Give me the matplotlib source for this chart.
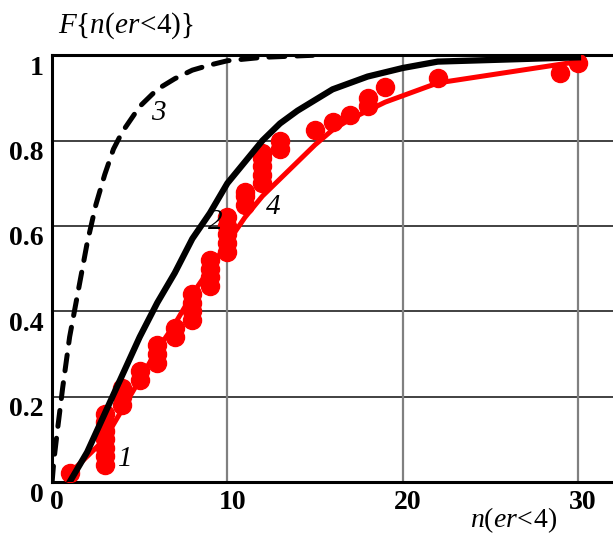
import matplotlib
matplotlib.use('Agg')
import matplotlib.pyplot as plt
import matplotlib.transforms as mtransforms

plt.rcParams['font.family'] = ['Liberation Serif', 'DejaVu Serif']
plt.rcParams['mathtext.fontset'] = 'custom'
plt.rcParams['mathtext.rm'] = 'Liberation Serif'
plt.rcParams['mathtext.it'] = 'Liberation Serif:italic'

### Data ###
# curve 3 (dashed)
n3 = [0, 0.1, 0.3, 0.6, 1.0, 1.5, 2.0, 2.5, 3.0, 3.5, 4.0, 5.0, 6.0, 7.0, 8.0, 9.0, 10, 12, 15]
F3 = [0.0, 0.05, 0.12, 0.22, 0.34, 0.45, 0.56, 0.65, 0.72, 0.78, 0.82, 0.88, 0.92, 0.945, 0.965, 0.977, 0.987, 0.995, 1.0]

# curve 2 (solid black)
n2 = [1, 2, 3, 4, 5, 6, 7, 8, 9, 10, 11, 12, 13, 14, 15, 16, 17, 18, 19, 20, 22, 30]
F2 = [0.0, 0.07, 0.16, 0.25, 0.34, 0.42, 0.49, 0.57, 0.63, 0.70, 0.75, 0.80, 0.84, 0.87, 0.895, 0.92, 0.935, 0.95, 0.96, 0.97, 0.985, 0.995]

# curve 4 (red line)
n4 = [1, 3, 4, 5, 6, 7, 8, 9, 10, 11, 12, 13, 14, 15, 16, 17, 18, 19, 22, 30]
F4 = [0.02, 0.10, 0.17, 0.24, 0.31, 0.37, 0.44, 0.50, 0.56, 0.62, 0.67, 0.71, 0.75, 0.79, 0.825, 0.85, 0.87, 0.89, 0.935, 0.985]

# empirical points (1)
n1 = [1,
      3, 3, 3, 3, 3, 3, 3,
      4, 4, 4,
      5, 5,
      6, 6, 6,
      7, 7,
      8, 8, 8, 8,
      9, 9, 9, 9,
      10, 10, 10, 10, 10,
      11, 11, 11,
      12, 12, 12, 12, 12,
      13, 13,
      15, 16, 17, 18, 18, 19, 22, 29, 30]
F1 = [0.02,
      0.04, 0.06, 0.08, 0.10, 0.12, 0.14, 0.16,
      0.18, 0.20, 0.22,
      0.24, 0.26,
      0.28, 0.30, 0.32,
      0.34, 0.36,
      0.38, 0.40, 0.42, 0.44,
      0.46, 0.48, 0.50, 0.52,
      0.54, 0.56, 0.58, 0.60, 0.62,
      0.65, 0.67, 0.68,
      0.70, 0.72, 0.74, 0.76, 0.77,
      0.78, 0.80,
      0.824, 0.844, 0.86, 0.88, 0.90, 0.926, 0.946, 0.958, 0.982]

xticks = [0, 10, 20, 30]
yticks = [0, 0.2, 0.4, 0.6, 0.8, 1]
yticklabels = ['0', '0.2', '0.4', '0.6', '0.8', '1']

### Plotting ###
fig = plt.figure(figsize=(6.13, 5.36), dpi=100)
ax = fig.add_axes([0.085, 0.1007, 0.915, 0.7963])

for y in yticks[1:-1]:
    ax.axhline(y, color='#333333', lw=1.3, zorder=1)
for x in xticks[1:]:
    ax.axvline(x, color='#808080', lw=1.6, zorder=1)

ax.plot(n3, F3, color='k', lw=3.6, dashes=(3.2, 2.4), dash_capstyle='round', zorder=2)
ax.plot(n4, F4, color='red', lw=3.6, solid_capstyle='round', zorder=3)
ax.plot(n1, F1, 'o', color='red', ms=13, zorder=4)
ax.plot(n2, F2, color='k', lw=4.5, solid_joinstyle='round', zorder=5)

ax.set_xlim(0, 32)
ax.set_ylim(0, 1)
ax.set_xticks(xticks)
ax.set_yticks(yticks)
ax.set_yticklabels(yticklabels)
ax.tick_params(length=0, labelsize=20, pad=6)
for lab in ax.get_xticklabels() + ax.get_yticklabels():
    lab.set_fontweight('bold')
off = mtransforms.ScaledTranslation(0, -10 / 100, fig.dpi_scale_trans)
for lab in ax.get_yticklabels():
    lab.set_transform(lab.get_transform() + off)
xoff = mtransforms.ScaledTranslation(5 / 100, 0, fig.dpi_scale_trans)
for lab in ax.get_xticklabels():
    lab.set_transform(lab.get_transform() + xoff)

for side in ['left', 'bottom', 'top']:
    ax.spines[side].set_linewidth(2.2)
ax.spines['right'].set_visible(False)

# curve labels
lab_kw = dict(fontsize=21, style='italic', ha='center', va='center', zorder=6)
ax.text(4.2, 0.054, '1', **lab_kw)
ax.text(9.3, 0.61, '2', **lab_kw)
ax.text(6.06, 0.864, '3', **lab_kw)
ax.text(12.6, 0.644, '4', **lab_kw)

fig.text(58 / 613, 1 - 26 / 536, r'$F\{n(er\!<\!4)\}$', fontsize=21, ha='left', va='center')
fig.text(514 / 613, 1 - 520 / 536, r'$n(er\!<\!4)$', fontsize=20, ha='center', va='center')

fig.savefig('out.png', dpi=100)
